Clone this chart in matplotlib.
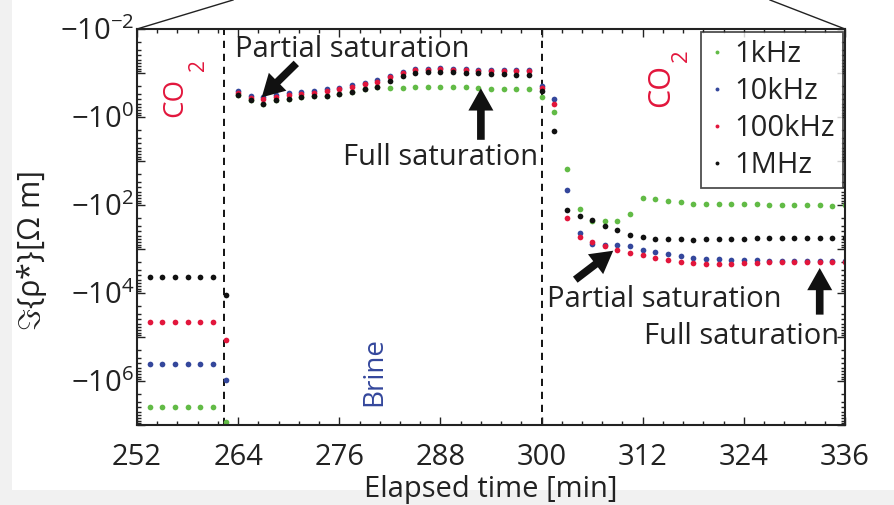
import matplotlib
matplotlib.use("Agg")
import matplotlib.pyplot as plt
import numpy as np
from matplotlib.lines import Line2D
from matplotlib.patches import Rectangle
from matplotlib.ticker import FuncFormatter, LogLocator, MultipleLocator, NullFormatter

plt.rcParams["font.family"] = ["Open Sans", "DejaVu Sans"]
plt.rcParams["mathtext.fontset"] = "custom"
plt.rcParams["mathtext.rm"] = "Open Sans"
plt.rcParams["mathtext.it"] = "Open Sans:italic"
plt.rcParams["mathtext.bf"] = "Open Sans:bold"
plt.rcParams["mathtext.fallback"] = "cm"

# elapsed time of each measurement [min]
time_min = [
    253.5, 255.0, 256.5, 258.0, 259.5, 261.0, 262.5,
    264.0, 265.5, 267.0, 268.5, 270.0, 271.5, 273.0, 274.5, 276.0, 277.5, 279.0, 280.5,
    282.0, 283.5, 285.0, 286.5, 288.0, 289.5, 291.0, 292.5, 294.0, 295.5, 297.0, 298.5,
    300.0,
    301.5, 303.0, 304.5, 306.0, 307.5, 309.0, 310.5, 312.0, 313.5, 315.0, 316.5, 318.0,
    319.5, 321.0, 322.5, 324.0, 325.5, 327.0, 328.5, 330.0, 331.5, 333.0, 334.5, 336.0,
]

# imaginary part of complex resistivity [Ohm m]
im_1khz = [
    -4.0e6, -4.0e6, -4.0e6, -4.0e6, -4.0e6, -4.0e6, -8.6e6,
    -0.312, -0.404, -0.507, -0.411, -0.391, -0.358, -0.340, -0.328, -0.301, -0.266, -0.236, -0.209,
    -0.220, -0.216, -0.205, -0.205, -0.205, -0.205, -0.212, -0.220, -0.228, -0.232, -0.236, -0.236,
    -0.358,
    -0.76, -14.9, -122, -236, -236, -229, -158, -68.7, -73.6, -80.4, -87.7, -94,
    -96, -96, -96, -96, -96, -99, -99, -99, -99, -101, -103, -99,
]
im_10khz = [
    -4.2e5, -4.2e5, -4.2e5, -4.2e5, -4.2e5, -4.2e5, -9.7e5,
    -0.257, -0.334, -0.352, -0.317, -0.291, -0.271, -0.253, -0.236, -0.216, -0.188, -0.166, -0.145,
    -0.116, -0.0937, -0.083, -0.0802, -0.0787, -0.0815, -0.083, -0.0844, -0.0874, -0.0874, -0.0874, -0.0874,
    -0.195,
    -0.39, -45, -436, -773, -829, -829, -843, -1040, -1153, -1303, -1422, -1578,
    -1691, -1721, -1750, -1750, -1783, -1845, -1900, -1900, -1900, -1900, -1900, -1880,
]
im_100khz = [
    -4.5e4, -4.5e4, -4.5e4, -4.5e4, -4.5e4, -4.5e4, -1.16e5,
    -0.281, -0.364, -0.397, -0.346, -0.323, -0.301, -0.281, -0.257, -0.236, -0.205, -0.181, -0.158,
    -0.122, -0.0988, -0.0859, -0.0844, -0.083, -0.0859, -0.0874, -0.0889, -0.0905, -0.0921, -0.0921, -0.0921,
    -0.224,
    -0.51, -199, -537, -696, -872, -1040, -1236, -1374, -1607, -1778, -1944, -2084,
    -2234, -2196, -2159, -2084, -2084, -2014, -2014, -2014, -2014, -2014, -2014, -1979,
]
im_1mhz = [
    -4300, -4300, -4300, -4300, -4300, -4300, -1.13e4,
    -0.312, -0.404, -0.507, -0.411, -0.391, -0.358, -0.340, -0.328, -0.301, -0.266, -0.236, -0.209,
    -0.152, -0.1175, -0.1005, -0.097, -0.0953, -0.0953, -0.0988, -0.102, -0.106, -0.108, -0.110, -0.112,
    -0.253,
    -2.04, -129, -182, -217, -308, -366, -475, -546, -585, -596, -605, -617,
    -606, -606, -595, -585, -575, -575, -575, -565, -565, -565, -565, -565,
]

series = [
    ("1kHz", im_1khz, "#62bb46"),
    ("10kHz", im_10khz, "#34479c"),
    ("100kHz", im_100khz, "#e2163c"),
    ("1MHz", im_1mhz, "#111111"),
]

x_ticks = [252, 264, 276, 288, 300, 312, 324, 336]
switch_times = [262.35, 300.0]

FS = 21
INK = "#222222"

fig = plt.figure(figsize=(8.95, 5.05), dpi=100, facecolor="#f1f1f1")
fig.patches.append(Rectangle((12 / 895, 15 / 505), 1, 1, transform=fig.transFigure,
                             facecolor="white", edgecolor="none", zorder=-10))
ax = fig.add_axes([137 / 895, 80 / 505, 708 / 895, 396 / 505])

t = np.array(time_min)
for name, vals, color in series:
    ax.plot(t, -np.array(vals), "o", ms=4.1, mew=0, color=color, label=name)

for xv in switch_times:
    ax.axvline(xv, color="k", lw=1.3, ls=(0, (4, 3.2)), zorder=1)

ax.set_yscale("log")
ax.set_ylim(1e7, 1e-2)
ax.set_xlim(252, 336)
ax.set_xticks(x_ticks)
ax.xaxis.set_minor_locator(MultipleLocator(2.4))

ax.yaxis.set_major_locator(LogLocator(base=10, numticks=20))
ax.yaxis.set_minor_locator(LogLocator(base=10, subs=np.arange(2, 10), numticks=20))
ax.yaxis.set_minor_formatter(NullFormatter())


def neg_pow(v, pos):
    e = int(round(np.log10(v)))
    return r"$-10^{%d}$" % e if e % 2 == 0 else ""


ax.yaxis.set_major_formatter(FuncFormatter(neg_pow))
ax.tick_params(which="both", direction="in", top=True, right=True, width=1.0, colors=INK)
ax.tick_params(which="major", length=6, labelsize=FS)
ax.tick_params(which="minor", length=3)
ax.tick_params(axis="x", which="major", pad=13)
ax.tick_params(axis="y", which="major", pad=2)
for sp in ax.spines.values():
    sp.set_linewidth(1.5)
    sp.set_color(INK)

ax.set_xlabel("Elapsed time [min]", fontsize=FS, color=INK)
ax.xaxis.set_label_coords(0.5, -0.125)
ax.set_ylabel(r"$\Im\{\mathrm{\rho}{*}\}[\Omega\ \mathrm{m}]$", fontsize=FS + 1, color=INK)
ax.yaxis.set_label_coords(-0.124, 0.44)

handles = [Line2D([], [], ls="none", marker="o", ms=2.8, mew=0, color=c) for _, _, c in series]
leg = ax.legend(handles, [n for n, _, _ in series], loc="upper right",
                bbox_to_anchor=(0.997, 0.992), borderaxespad=0, fontsize=FS,
                frameon=True, fancybox=False, handlelength=0.5, handletextpad=0.35,
                labelspacing=0.27, borderpad=0.28)
leg.get_frame().set_edgecolor(INK)
leg.get_frame().set_linewidth(1.3)
for txt in leg.get_texts():
    txt.set_color(INK)

# phase labels
red = "#e2163c"
ax.text(256.5, 0.352, "CO", rotation=90, color=red, fontsize=20, ha="center", va="center")
ax.text(259.3, 0.066, "2", rotation=90, color=red, fontsize=15, ha="center", va="center")
ax.text(314.2, 0.188, "CO", rotation=90, color=red, fontsize=22, ha="center", va="center")
ax.text(316.6, 0.041, "2", rotation=90, color=red, fontsize=16, ha="center", va="center")
ax.text(280.1, 6.1e5, "Brine", rotation=90, color="#34479c", fontsize=20, ha="center", va="center")

# saturation markers
arrow = dict(facecolor="#111111", edgecolor="none", width=5.5, headwidth=18, headlength=16, shrink=0)
ax.annotate("", xy=(266.8, 0.357), xytext=(270.9, 0.0605), arrowprops=arrow)
ax.annotate("", xy=(292.8, 0.223), xytext=(292.8, 3.3), arrowprops=arrow)
ax.annotate("", xy=(308.5, 1094), xytext=(304.0, 4980), arrowprops=arrow)
ax.annotate("", xy=(333.0, 2700), xytext=(333.0, 3.1e4), arrowprops=arrow)

ax.text(277.5, 0.0287, "Partial saturation", fontsize=FS, ha="center", va="center", color=INK)
ax.text(288.0, 8.5, "Full saturation", fontsize=FS, ha="center", va="center", color=INK)
ax.text(314.6, 1.4e4, "Partial saturation", fontsize=FS, ha="center", va="center", color=INK)
ax.text(323.7, 1.0e5, "Full saturation", fontsize=FS, ha="center", va="center", color=INK)

# connector lines toward the overview panel above
fig.add_artist(Line2D([137 / 895, 233 / 895], [1 - 29 / 505, 1], transform=fig.transFigure,
                      color=INK, lw=1.0))
fig.add_artist(Line2D([845 / 895, 770 / 895], [1 - 29 / 505, 1], transform=fig.transFigure,
                      color=INK, lw=1.0))

fig.savefig("out.png", dpi=100, facecolor=fig.get_facecolor())
